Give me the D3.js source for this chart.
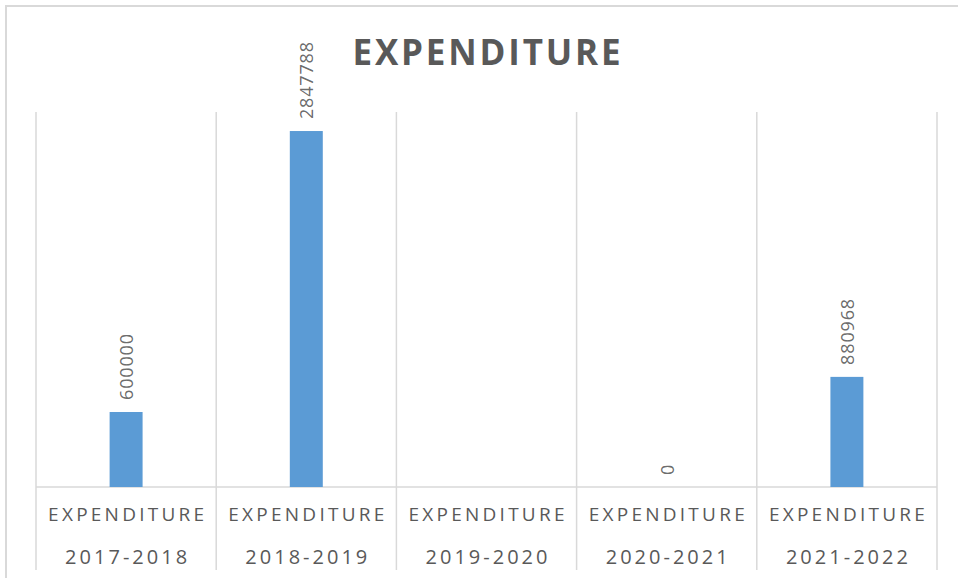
<!DOCTYPE html>
<html>
<head>
<meta charset="utf-8">
<script src="https://cdn.jsdelivr.net/npm/d3@7"></script>
<style>
  body { margin: 0; background: #fff; }
  svg { display: block; font-family: "Open Sans", sans-serif; }
  .grid line { stroke: #d9d9d9; stroke-width: 1.5; }
  .bar { fill: #5b9bd5; }
  .lbl { fill: #595959; }
</style>
</head>
<body>
<script>
// data
const categories = ["2017-2018", "2018-2019", "2019-2020", "2020-2021", "2021-2022"];
const seriesName = "EXPENDITURE";
const values = [600000, 2847788, null, 0, 880968];
const yMax = 3000000;

const W = 958, H = 578;
const plot = {left: 36, right: 937, top: 112, bottom: 487};

const svg = d3.select("body").append("svg")
  .attr("width", W)
  .attr("height", H);

// chart area border (only left / top edges fall inside the picture)
svg.append("rect")
  .attr("x", 6).attr("y", 6)
  .attr("width", W + 20).attr("height", H + 20)
  .attr("fill", "none")
  .attr("stroke", "#d9d9d9")
  .attr("stroke-width", 2);

const xScale = d3.scaleBand()
  .domain(categories)
  .range([plot.left, plot.right])
  .padding(0);

const yScale = d3.scaleLinear()
  .domain([0, yMax])
  .range([plot.bottom, plot.top]);

// vertical dividers between categories, running down through the labels
const edges = categories.map(c => xScale(c)).concat([plot.right]);
const grid = svg.append("g").attr("class", "grid");
grid.selectAll("line.v")
  .data(edges)
  .enter().append("line")
  .attr("class", "v")
  .attr("x1", d => d).attr("x2", d => d)
  .attr("y1", plot.top).attr("y2", 570);
grid.append("line")
  .attr("x1", plot.left).attr("x2", plot.right)
  .attr("y1", yScale(0)).attr("y2", yScale(0));

// bars
const barW = xScale.bandwidth() * 0.183;
const data = categories.map((c, i) => ({cat: c, v: values[i]}));

svg.selectAll(".bar")
  .data(data.filter(d => d.v !== null))
  .enter().append("rect")
  .attr("class", "bar")
  .attr("x", d => xScale(d.cat) + xScale.bandwidth() / 2 - barW / 2)
  .attr("width", barW)
  .attr("y", d => yScale(d.v))
  .attr("height", d => yScale(0) - yScale(d.v));

// rotated value labels
svg.selectAll(".val")
  .data(data.filter(d => d.v !== null))
  .enter().append("text")
  .attr("class", "lbl val")
  .attr("transform", d => "translate(" + (xScale(d.cat) + xScale.bandwidth() / 2) + "," + (yScale(d.v) - 12) + ") rotate(-90)")
  .attr("dominant-baseline", "central")
  .attr("font-size", 18)
  .attr("fill-opacity", 0.9)
  .attr("textLength", d => String(d.v).length * 11)
  .attr("lengthAdjust", "spacing")
  .text(d => d.v);

// category labels (two levels)
const cx = d => xScale(d) + xScale.bandwidth() / 2;
svg.selectAll(".cat1")
  .data(categories)
  .enter().append("text")
  .attr("class", "lbl cat1")
  .attr("x", cx).attr("y", 521)
  .attr("text-anchor", "middle")
  .attr("font-size", 19)
  .attr("textLength", 156)
  .attr("lengthAdjust", "spacing")
  .text(seriesName);

svg.selectAll(".cat2")
  .data(categories)
  .enter().append("text")
  .attr("class", "lbl cat2")
  .attr("x", cx).attr("y", 564)
  .attr("text-anchor", "middle")
  .attr("font-size", 20)
  .attr("textLength", 122)
  .attr("lengthAdjust", "spacing")
  .text(d => d);

// title
svg.append("text")
  .attr("class", "lbl")
  .attr("x", (plot.left + plot.right) / 2)
  .attr("y", 65)
  .attr("text-anchor", "middle")
  .attr("font-size", 35)
  .attr("font-weight", "bold")
  .attr("textLength", 268)
  .attr("lengthAdjust", "spacing")
  .text("EXPENDITURE");
</script>
</body>
</html>
